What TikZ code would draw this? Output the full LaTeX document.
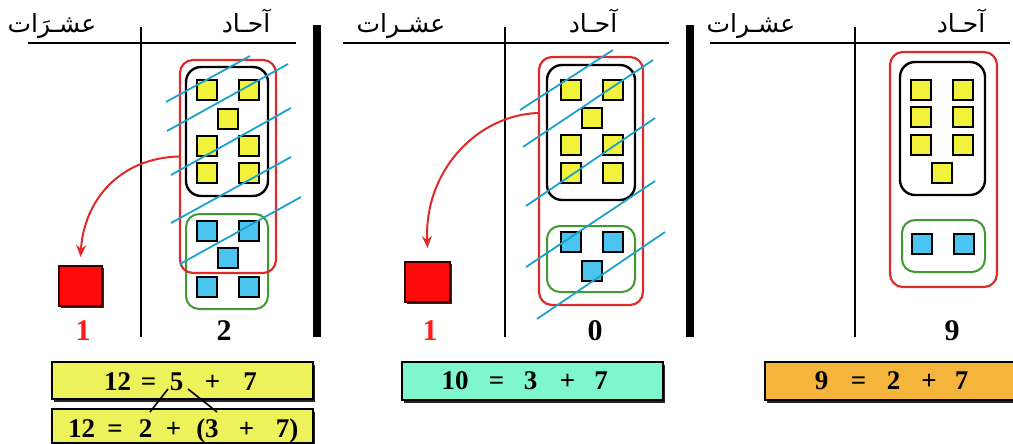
\documentclass[tikz,border=0pt]{standalone}
\usepackage{fontspec}
\setmainfont{Liberation Serif}
\newfontfamily\arabicfont[Script=Arabic]{DejaVu Sans}
\TeXXeTstate=1
\usetikzlibrary{shadows,arrows.meta}
\definecolor{yfill}{HTML}{F2F23C}
\definecolor{cfill}{HTML}{4CC4F0}
\definecolor{redsqfill}{HTML}{FF0A0A}
\definecolor{redline}{HTML}{E02A2A}
\definecolor{greenline}{HTML}{3E9A2E}
\definecolor{blueline}{HTML}{1CA2C8}
\definecolor{eqyellow}{HTML}{EEF25A}
\definecolor{eqaqua}{HTML}{7EF7CE}
\definecolor{eqorange}{HTML}{F5B53C}
\definecolor{numred}{HTML}{FF1A1A}
\begin{document}
\begin{tikzpicture}[x=1pt,y=-1pt,
  sqbase/.style={draw=black, line width=1.2pt, minimum size=20pt, inner sep=0pt,
     drop shadow={shadow xshift=1.4pt, shadow yshift=-1.4pt, fill=black!85, opacity=1}},
  ysq/.style={sqbase, fill=yfill},
  csq/.style={sqbase, fill=cfill},
  redsq/.style={draw=black!80!red, line width=1.5pt, fill=redsqfill, inner sep=0pt,
     drop shadow={shadow xshift=2pt, shadow yshift=-2pt, fill=black!85, opacity=1}},
  redgroup/.style={draw=redline, line width=2.2pt, rounded corners=13pt, inner sep=0pt},
  blackgroup/.style={draw=black, line width=2.4pt, rounded corners=15pt, inner sep=0pt},
  greengroup/.style={draw=greenline, line width=2pt, rounded corners=13pt, inner sep=0pt},
  strike/.style={draw=blueline, line width=1.8pt},
  carry/.style={draw=redline, line width=2pt, -{Stealth[length=12pt,width=10pt,inset=4pt]}},
  rule/.style={draw=black, line width=1.8pt},
  bar/.style={draw=black, line width=8pt},
  head/.style={font=\arabicfont\fontsize{25pt}{28pt}\selectfont, anchor=base, inner sep=0pt},
  bignum/.style={font=\fontsize{30pt}{32pt}\selectfont\bfseries, anchor=base, inner sep=0pt},
  eqbox/.style={draw=black, line width=1.4pt, inner sep=0pt,
     drop shadow={shadow xshift=2.2pt, shadow yshift=-2.6pt, fill=black!85, opacity=1}},
  tok/.style={font=\fontsize{27pt}{28pt}\selectfont\bfseries, anchor=base, inner sep=0pt},
  link/.style={draw=black, line width=1.6pt}
]
\useasboundingbox (0,0) rectangle (1013,444);

% ---------------- rules and bars ----------------
\coordinate (h1a) at (28,43);  \coordinate (h1b) at (296,43);
\coordinate (v1a) at (141,27); \coordinate (v1b) at (141,337);
\coordinate (h2a) at (343,43); \coordinate (h2b) at (669,43);
\coordinate (v2a) at (505,27); \coordinate (v2b) at (505,337);
\coordinate (h3a) at (710,43); \coordinate (h3b) at (1010,43);
\coordinate (v3a) at (855,27); \coordinate (v3b) at (855,337);
\coordinate (b1a) at (317,25); \coordinate (b1b) at (317,337);
\coordinate (b2a) at (690,25); \coordinate (b2b) at (690,337);
\draw[rule] (h1a) -- (h1b);
\draw[rule] (v1a) -- (v1b);
\draw[rule] (h2a) -- (h2b);
\draw[rule] (v2a) -- (v2b);
\draw[rule] (h3a) -- (h3b);
\draw[rule] (v3a) -- (v3b);
\draw[bar] (b1a) -- (b1b);
\draw[bar] (b2a) -- (b2b);

% ---------------- headings ----------------
\node[head] (t1) at (52,33) {\beginR عشـرَات\endR};
\node[head] (o1) at (246,33) {\beginR آحـاد\endR};
\node[head] (t2) at (401,33) {\beginR عشـرات\endR};
\node[head] (o2) at (593,33) {\beginR آحـاد\endR};
\node[head] (t3) at (751,33) {\beginR عشـرات\endR};
\node[head] (o3) at (961,33) {\beginR آحـاد\endR};

% ---------------- panel 1 ----------------
\node[greengroup, minimum width=82pt, minimum height=95pt] (g1) at (227,261.5) {};
\foreach \n/\x/\y in {a/207/90,b/249/90,c/228/119,d/207/146,e/249/146,f/207/173,g/249/173}
  \node[ysq] (y1\n) at (\x,\y) {};
\foreach \n/\x/\y in {a/207/231,b/249/231,c/228/258,d/207/287,e/249/287}
  \node[csq] (c1\n) at (\x,\y) {};
\node[blackgroup, minimum width=82pt, minimum height=129pt] (k1) at (227,131.5) {};
\node[redgroup, minimum width=96pt, minimum height=213pt] (r1) at (228,166.5) {};
\node[redsq, minimum width=43pt, minimum height=40pt] (s1) at (80.5,286) {};
\draw[carry] ([yshift=10pt]r1.west) .. controls (120,158) and (84,200) .. (s1.north |- 0,257);
\foreach \i/\xa/\ya/\xb/\yb in {1/166/102/250/56, 2/167/131/288/64, 3/171/175/291/108,
                                  4/171/223/291/157, 5/180/264/301/197}{
  \coordinate (p1s\i) at (\xa,\ya); \coordinate (p1e\i) at (\xb,\yb);
  \draw[strike] (p1s\i) -- (p1e\i);
}
\node[bignum, text=numred] (n1t) at (83,340) {1};
\node[bignum] (n1o) at (224,340) {2};

% ---------------- panel 2 ----------------
\foreach \n/\x/\y in {a/571/90,b/613/90,c/592/118,d/571/145,e/613/145,f/571/173,g/613/173}
  \node[ysq] (y2\n) at (\x,\y) {};
\foreach \n/\x/\y in {a/571/242,b/613/242,c/592/271}
  \node[csq] (c2\n) at (\x,\y) {};
\node[blackgroup, minimum width=88pt, minimum height=135pt] (k2) at (591,132.5) {};
\node[greengroup, minimum width=88pt, minimum height=66pt] (g2) at (591,259) {};
\node[redgroup, minimum width=104pt, minimum height=248pt] (r2) at (591,181) {};
\node[redsq, minimum width=45pt, minimum height=40pt] (s2) at (427.5,282) {};
\draw[carry] ([yshift=68pt]r2.west) .. controls (478,115) and (424,170) .. (s2.north |- 0,248);
\foreach \i/\xa/\ya/\xb/\yb in {1/520/110/613/50, 2/523/147/653/60, 3/526/206/655/118,
                                  4/526/267/655/181, 5/537/319/665/232}{
  \coordinate (p2s\i) at (\xa,\ya); \coordinate (p2e\i) at (\xb,\yb);
  \draw[strike] (p2s\i) -- (p2e\i);
}
\node[bignum, text=numred] (n2t) at (430,340) {1};
\node[bignum] (n2o) at (595,340) {0};

% ---------------- panel 3 ----------------
\foreach \n/\x/\y in {a/921/90,b/963/90,c/921/117,d/963/117,e/921/145,f/963/145,g/942/173}
  \node[ysq] (y3\n) at (\x,\y) {};
\foreach \n/\x/\y in {a/922/244,b/964/244}
  \node[csq] (c3\n) at (\x,\y) {};
\node[blackgroup, minimum width=85pt, minimum height=133pt] (k3) at (942.5,128.5) {};
\node[greengroup, minimum width=83pt, minimum height=52pt] (g3) at (943.5,246) {};
\node[redgroup, minimum width=107pt, minimum height=235pt] (r3) at (943.5,169.5) {};
\node[bignum] (n3o) at (952,340) {9};

% ---------------- equations ----------------
\node[eqbox, fill=eqyellow, minimum width=261pt, minimum height=37pt] (e1) at (182.5,380.5) {};
\node[eqbox, fill=eqyellow, minimum width=261pt, minimum height=34pt] (e2) at (182.5,426) {};
\node[eqbox, fill=eqaqua, minimum width=261pt, minimum height=38pt] (e3) at (532.5,381) {};
\node[eqbox, fill=eqorange, minimum width=262pt, minimum height=38pt] (e4) at (896,381) {};

\node[tok] (e1a) at (117.5,390) {12};
\node[tok] (e1b) at (148.5,390) {=};
\node[tok] (e1c) at (176.5,390) {5};
\node[tok] (e1d) at (212.5,390) {+};
\node[tok] (e1e) at (250,390) {7};

\node[tok] (e2a) at (81.5,437) {12};
\node[tok] (e2b) at (115,437) {=};
\node[tok] (e2c) at (145.5,437) {2};
\node[tok] (e2d) at (173.5,437) {+};
\node[tok] (e2e) at (207.5,437) {(3};
\node[tok] (e2f) at (246.5,437) {+};
\node[tok] (e2g) at (287,437) {7)};

\node[tok] (e3a) at (455,389) {10};
\node[tok] (e3b) at (496.5,389) {=};
\node[tok] (e3c) at (530.5,389) {3};
\node[tok] (e3d) at (567.5,389) {+};
\node[tok] (e3e) at (601,389) {7};

\node[tok] (e4a) at (821.5,389) {9};
\node[tok] (e4b) at (858.5,389) {=};
\node[tok] (e4c) at (893.5,389) {2};
\node[tok] (e4d) at (929,389) {+};
\node[tok] (e4e) at (961.5,389) {7};

\coordinate (l1a) at (168,389); \coordinate (l1b) at (150,412);
\coordinate (l2a) at (188,389); \coordinate (l2b) at (217,412);
\draw[link] (l1a) -- (l1b);
\draw[link] (l2a) -- (l2b);
\end{tikzpicture}
\end{document}
